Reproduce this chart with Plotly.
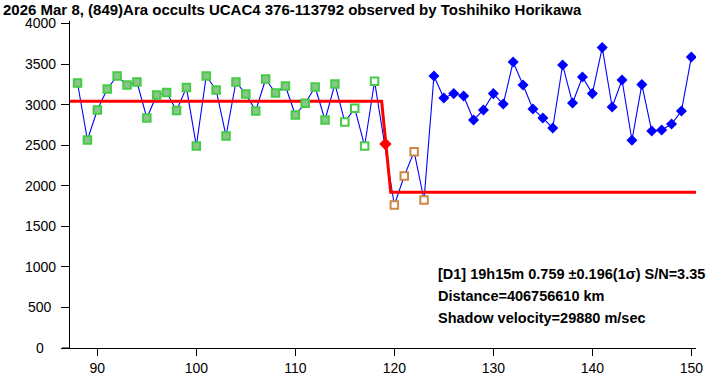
import plotly.graph_objects as go

# ---- data ----
frames_green = list(range(88, 115))
vals_green = [3266, 2563, 2933, 3192, 3352, 3241, 3278, 2835, 3118, 3148, 2926, 3209,
              2490, 3352, 3180, 2613, 3278, 3130, 2921, 3315, 3143, 3229, 2872, 3016,
              3217, 2810, 3254]
frames_green_open = [115, 116, 117, 118]
vals_green_open = [2785, 2954, 2490, 3287]
frames_mid = [119]
vals_mid = [2514]
frames_orange = [120, 121, 122, 123]
vals_orange = [1762, 2120, 2420, 1824]
frames_blue = list(range(124, 151))
vals_blue = [3352, 3081, 3135, 3106, 2810, 2933, 3135, 3007, 3525, 3241, 2946, 2835,
             2711, 3488, 3019, 3340, 3135, 3702, 2970, 3303, 2560, 3246, 2674, 2687,
             2761, 2921, 3586]

step_x = [87.24, 118.72, 119.63, 150.47]
step_y = [3040, 3040, 1919, 1919]
d1_time = [119.1]
d1_level = [2514]

x_ticks = [90, 100, 110, 120, 130, 140, 150]
y_ticks = [0, 500, 1000, 1500, 2000, 2500, 3000, 3500, 4000]
x_range = [87.24, 150.47]
y_range = [0, 4030]

title_text = "2026 Mar 8, (849)Ara occults UCAC4 376-113792 observed by Toshihiko Horikawa"
info_lines = ["[D1] 19h15m 0.759 ±0.196(1σ) S/N=3.35",
              "Distance=406756610 km",
              "Shadow velocity=29880 m/sec"]

W, H = 728, 378
ML, MR, MT, MB = 70, 32, 21, 30
PW = W - ML - MR
PH = H - MT - MB
FONT = "Liberation Sans, Arial, sans-serif"

all_x = frames_green + frames_green_open + frames_mid + frames_orange + frames_blue
all_y = vals_green + vals_green_open + vals_mid + vals_orange + vals_blue

fig = go.Figure()
fig.add_trace(go.Scatter(x=all_x, y=all_y, mode="lines",
                         line=dict(color="#0000ff", width=1.1), hoverinfo="skip"))
fig.add_trace(go.Scatter(x=step_x, y=step_y, mode="lines",
                         line=dict(color="#ff0000", width=3)))
fig.add_trace(go.Scatter(x=frames_green, y=vals_green, mode="markers",
                         marker=dict(symbol="square", size=7.5, color="#8cc48c",
                                     line=dict(color="#44cc44", width=2))))
fig.add_trace(go.Scatter(x=frames_green_open, y=vals_green_open, mode="markers",
                         marker=dict(symbol="square", size=7.5, color="#ffffff",
                                     line=dict(color="#44cc44", width=2))))
fig.add_trace(go.Scatter(x=frames_orange, y=vals_orange, mode="markers",
                         marker=dict(symbol="square", size=7.5, color="#ffffff",
                                     line=dict(color="#cc8844", width=2))))
fig.add_trace(go.Scatter(x=frames_blue, y=vals_blue, mode="markers",
                         marker=dict(symbol="diamond", size=8.5, color="#0000ff",
                                     line=dict(width=0))))
fig.add_trace(go.Scatter(x=d1_time, y=d1_level, mode="markers",
                         marker=dict(symbol="diamond", size=9.5, color="#ff0000",
                                     line=dict(width=0))))

annotations = []
for v in y_ticks:
    annotations.append(dict(xref="paper", yref="y", x=(40 - ML) / PW, y=v,
                            text=str(v), showarrow=False, xanchor="center", yanchor="middle",
                            font=dict(family=FONT, size=14, color="#000000")))
for i, line in enumerate(info_lines):
    ypx = 274 + 22 * i
    annotations.append(dict(xref="paper", yref="paper", x=(436 - ML) / PW,
                            y=1 - (ypx - MT) / PH, text="<b>%s</b>" % line, showarrow=False,
                            xanchor="left", yanchor="middle",
                            font=dict(family=FONT, size=14.5, color="#000000")))

fig.update_layout(
    width=W, height=H,
    margin=dict(l=ML, r=MR, t=MT, b=MB, pad=0, autoexpand=False),
    plot_bgcolor="#ffffff", paper_bgcolor="#ffffff",
    showlegend=False,
    title=dict(text="<b>%s</b>" % title_text, xref="container", yref="container",
               x=3 / W, y=1 - 9.5 / H, xanchor="left", yanchor="middle",
               font=dict(family=FONT, size=15, color="#000000")),
    annotations=annotations,
    shapes=[dict(type="line", xref="paper", yref="y", x0=-8 / PW, x1=0, y0=0, y1=0,
                 line=dict(color="#000000", width=1))],
)
fig.update_xaxes(range=x_range, tickvals=x_ticks, ticktext=[str(t) for t in x_ticks],
                 showgrid=False, zeroline=False, showline=True, linecolor="#000000",
                 linewidth=1, ticks="outside", ticklen=7, tickcolor="#000000",
                 automargin=False,
                 tickfont=dict(family=FONT, size=14, color="#000000"))
fig.update_yaxes(range=y_range, tickvals=y_ticks, showticklabels=False,
                 showgrid=False, zeroline=False, showline=True, linecolor="#000000",
                 linewidth=1, ticks="outside", ticklen=8, tickcolor="#000000",
                 automargin=False)

fig.write_html("out.html", config={"displayModeBar": False},
               post_script="document.body.style.margin='0';document.body.style.overflow='hidden';")
